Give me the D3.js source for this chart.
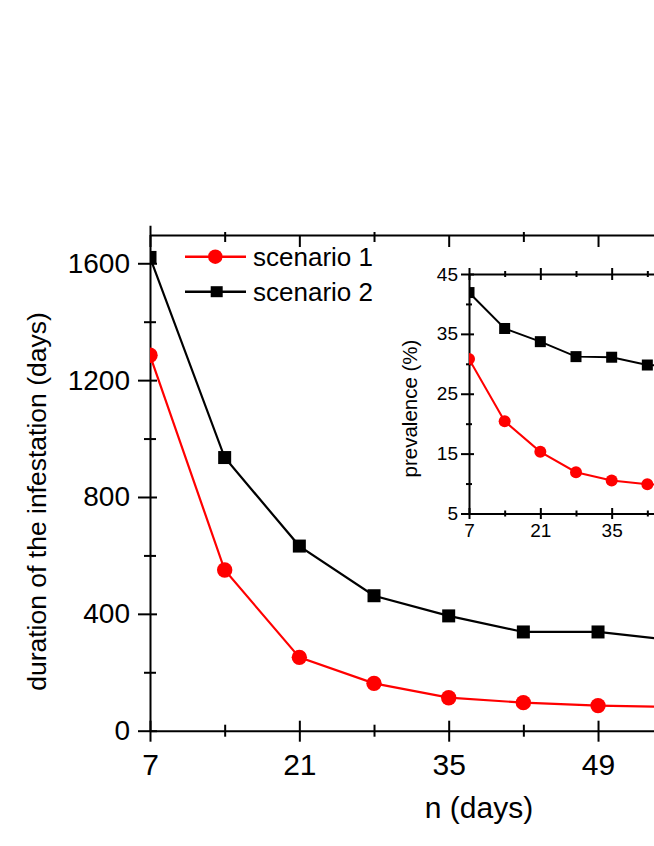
<!DOCTYPE html>
<html>
<head>
<meta charset="utf-8">
<script src="https://cdn.jsdelivr.net/npm/d3@7"></script>
<style>
  body { margin: 0; background: #fff; }
  text { font-family: "Liberation Sans", Arial, sans-serif; fill: #000; }
</style>
</head>
<body>
<script>
// main chart: duration of the infestation
var days = [7, 14, 21, 28, 35, 42, 49, 56];
var durationS1 = [1285, 550, 251, 162, 113, 96, 86, 81];
var durationS2 = [1620, 935, 632, 462, 393, 338, 338, 310];

// inset: prevalence
var insetDays = [7, 14, 21, 28, 35, 42, 49];
var prevalenceS1 = [30.8, 20.4, 15.3, 11.9, 10.5, 9.9, 9.6];
var prevalenceS2 = [41.9, 35.9, 33.7, 31.2, 31.1, 29.8, 29.5];

var mainYTicks = [0, 400, 800, 1200, 1600];
var mainYMinor = [200, 600, 1000, 1400];
var mainXTicks = [7, 21, 35, 49];
var mainXMinor = [14, 28, 42, 56];
var insetYTicks = [5, 15, 25, 35, 45];
var insetYMinor = [10, 20, 30, 40];
var insetXTicks = [7, 21, 35];
var insetXMinor = [14, 28, 42];

var seriesNames = ["scenario 1", "scenario 2"];
var colors = ["#ff0000", "#000000"];

var width = 654, height = 846;

var svg = d3.select("body").append("svg")
    .attr("width", width)
    .attr("height", height);

var x = d3.scaleLinear().domain([7, 56]).range([150, 672.7]);
var y = d3.scaleLinear().domain([0, 1730]).range([730.7, 225.3]);

// set both ends of the tick lines so they cross the axis
function ticks(g, a1, v1, a2, v2) {
    g.selectAll(".tick line").attr(a1, v1).attr(a2, v2);
}

function styleAxis(g, fontSize) {
    g.attr("font-size", null).attr("font-family", null);
    g.selectAll(".domain").attr("stroke", "#000").attr("stroke-width", 2);
    g.selectAll(".tick line").attr("stroke", "#000").attr("stroke-width", 2);
    g.selectAll(".tick text")
        .style("font-size", fontSize + "px")
        .style("font-family", "Liberation Sans, Arial, sans-serif")
        .attr("fill", "#000");
}

// left axis
var gy = svg.append("g").attr("transform", "translate(150,0)")
    .call(d3.axisLeft(y).tickValues(mainYTicks).tickFormat(d3.format("d"))
        .tickSize(12).tickSizeOuter(0).tickPadding(8));
ticks(gy, "x1", 7, "x2", -12);
styleAxis(gy, 28);

var gyMinor = svg.append("g").attr("transform", "translate(150,0)")
    .call(d3.axisLeft(y).tickValues(mainYMinor).tickSize(6).tickFormat(""));
gyMinor.select(".domain").remove();
ticks(gyMinor, "x1", 6, "x2", -6);
styleAxis(gyMinor, 0);

// bottom axis
var gx = svg.append("g").attr("transform", "translate(0,730.7)")
    .call(d3.axisBottom(x).tickValues(mainXTicks).tickSize(11).tickSizeOuter(0));
ticks(gx, "y1", -10, "y2", 11);
styleAxis(gx, 30);
gx.selectAll(".tick text").attr("y", 23);

var gxMinor = svg.append("g").attr("transform", "translate(0,730.7)")
    .call(d3.axisBottom(x).tickValues(mainXMinor).tickSize(6).tickFormat(""));
gxMinor.select(".domain").remove();
ticks(gxMinor, "y1", -6, "y2", 6);
styleAxis(gxMinor, 0);

// top axis
var gt = svg.append("g").attr("transform", "translate(0,235)")
    .call(d3.axisBottom(x).tickValues(mainXTicks).tickSize(12).tickSizeOuter(0).tickFormat(""));
ticks(gt, "y1", 0, "y2", 12);
styleAxis(gt, 0);

var gtMinor = svg.append("g").attr("transform", "translate(0,235)")
    .call(d3.axisBottom(x).tickValues(mainXMinor).tickSize(7).tickFormat(""));
gtMinor.select(".domain").remove();
ticks(gtMinor, "y1", -3, "y2", 7);
styleAxis(gtMinor, 0);

// clip so markers at n=7 are cut by the axis
svg.append("clipPath").attr("id", "mainClip")
    .append("rect").attr("x", 150).attr("y", 0).attr("width", 600).attr("height", 846);

var plot = svg.append("g").attr("clip-path", "url(#mainClip)");

var line = d3.line()
    .x(function(d){ return x(d[0]); })
    .y(function(d){ return y(d[1]); });

var mainSeries = [durationS1, durationS2];
mainSeries.forEach(function(vals, i){
    var pts = days.map(function(d, j){ return [d, vals[j]]; });
    plot.append("path")
        .attr("d", line(pts))
        .attr("fill", "none")
        .attr("stroke", colors[i])
        .attr("stroke-width", 2.2);
    if (i == 0) {
        plot.selectAll(".c1").data(pts).enter().append("circle")
            .attr("cx", function(d){ return x(d[0]); })
            .attr("cy", function(d){ return y(d[1]); })
            .attr("r", 7.7)
            .attr("fill", colors[i]);
    } else {
        plot.selectAll(".s2").data(pts).enter().append("rect")
            .attr("x", function(d){ return x(d[0]) - 6.5; })
            .attr("y", function(d){ return y(d[1]) - 6.5; })
            .attr("width", 13)
            .attr("height", 13)
            .attr("fill", colors[i]);
    }
});

// legend
var legendY = [256.7, 291.7];
seriesNames.forEach(function(name, i){
    var lg = svg.append("g");
    lg.append("line")
        .attr("x1", 185).attr("x2", 246)
        .attr("y1", legendY[i]).attr("y2", legendY[i])
        .attr("stroke", colors[i]).attr("stroke-width", 2.5);
    if (i == 0) {
        lg.append("circle").attr("cx", 215.3).attr("cy", legendY[i]).attr("r", 7.2).attr("fill", colors[i]);
    } else {
        lg.append("rect").attr("x", 210.7).attr("y", legendY[i] - 5.5)
            .attr("width", 12).attr("height", 11).attr("fill", colors[i]);
    }
    lg.append("text")
        .attr("x", 253)
        .attr("y", legendY[i] + 9.5)
        .attr("font-size", 26)
        .text(name);
});

// axis titles
svg.append("text")
    .attr("transform", "translate(46,501.5) rotate(-90)")
    .attr("text-anchor", "middle")
    .attr("font-size", 26.5)
    .text("duration of the infestation (days)");

svg.append("text")
    .attr("x", 479)
    .attr("y", 818)
    .attr("text-anchor", "middle")
    .attr("font-size", 30)
    .text("n (days)");

// inset
var ix = d3.scaleLinear().domain([7, 49]).range([469, 683]);
var iy = d3.scaleLinear().domain([5, 45]).range([513.5, 274]);

svg.append("rect")
    .attr("x", 469).attr("y", 274)
    .attr("width", 200).attr("height", 239.5)
    .attr("fill", "#fff");

var iyAxis = svg.append("g").attr("transform", "translate(469,0)")
    .call(d3.axisLeft(iy).tickValues(insetYTicks).tickSize(8).tickSizeOuter(0).tickPadding(3));
ticks(iyAxis, "x1", 5, "x2", -8);
styleAxis(iyAxis, 19);

var iyMinor = svg.append("g").attr("transform", "translate(469,0)")
    .call(d3.axisLeft(iy).tickValues(insetYMinor).tickSize(3).tickFormat(""));
iyMinor.select(".domain").remove();
ticks(iyMinor, "x1", 3, "x2", -3);
styleAxis(iyMinor, 0);

var ixAxis = svg.append("g").attr("transform", "translate(0,513.5)")
    .call(d3.axisBottom(ix).tickValues(insetXTicks).tickSize(5.5).tickSizeOuter(0));
ticks(ixAxis, "y1", -5.5, "y2", 5.5);
styleAxis(ixAxis, 19);
ixAxis.selectAll(".tick text").attr("y", 10);

var ixMinor = svg.append("g").attr("transform", "translate(0,513.5)")
    .call(d3.axisBottom(ix).tickValues(insetXMinor).tickSize(3).tickFormat(""));
ixMinor.select(".domain").remove();
ticks(ixMinor, "y1", -3, "y2", 3);
styleAxis(ixMinor, 0);

var itAxis = svg.append("g").attr("transform", "translate(0,274)")
    .call(d3.axisBottom(ix).tickValues(insetXTicks).tickSize(6).tickSizeOuter(0).tickFormat(""));
ticks(itAxis, "y1", -6, "y2", 6);
styleAxis(itAxis, 0);

var itMinor = svg.append("g").attr("transform", "translate(0,274)")
    .call(d3.axisBottom(ix).tickValues(insetXMinor).tickSize(3).tickFormat(""));
itMinor.select(".domain").remove();
ticks(itMinor, "y1", -3, "y2", 3);
styleAxis(itMinor, 0);

svg.append("clipPath").attr("id", "insetClip")
    .append("rect").attr("x", 469).attr("y", 260).attr("width", 300).attr("height", 270);

var inset = svg.append("g").attr("clip-path", "url(#insetClip)");

var iline = d3.line()
    .x(function(d){ return ix(d[0]); })
    .y(function(d){ return iy(d[1]); });

[prevalenceS1, prevalenceS2].forEach(function(vals, i){
    var pts = insetDays.map(function(d, j){ return [d, vals[j]]; });
    inset.append("path")
        .attr("d", iline(pts))
        .attr("fill", "none")
        .attr("stroke", colors[i])
        .attr("stroke-width", 2);
    if (i == 0) {
        inset.selectAll(".ic1").data(pts).enter().append("circle")
            .attr("cx", function(d){ return ix(d[0]); })
            .attr("cy", function(d){ return iy(d[1]); })
            .attr("r", 6)
            .attr("fill", colors[i]);
    } else {
        inset.selectAll(".is2").data(pts).enter().append("rect")
            .attr("x", function(d){ return ix(d[0]) - 5.5; })
            .attr("y", function(d){ return iy(d[1]) - 5.5; })
            .attr("width", 11)
            .attr("height", 11)
            .attr("fill", colors[i]);
    }
});

svg.append("text")
    .attr("transform", "translate(417,408.5) rotate(-90)")
    .attr("text-anchor", "middle")
    .attr("font-size", 20.5)
    .text("prevalence (%)");
</script>
</body>
</html>
